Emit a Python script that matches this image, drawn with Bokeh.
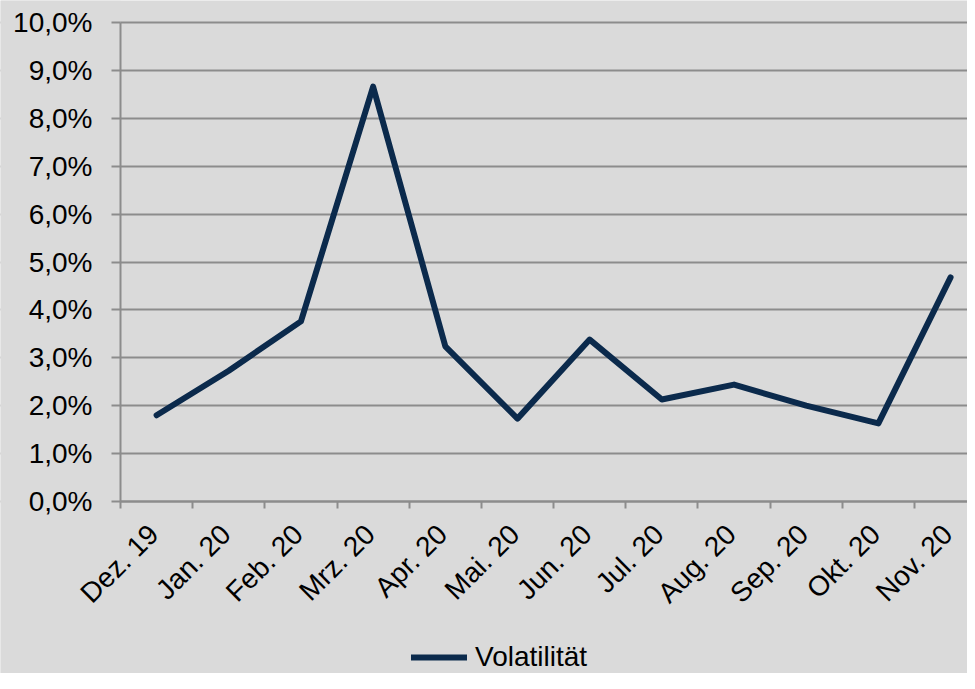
from math import pi
from bokeh.plotting import figure
from bokeh.models import (Range1d, FixedTicker, Legend, LegendItem,
                          ColumnDataSource, BoxAnnotation)
from bokeh.embed import file_html
from bokeh.resources import INLINE

months = ["Dez. 19", "Jan. 20", "Feb. 20", "Mrz. 20", "Apr. 20", "Mai. 20",
          "Jun. 20", "Jul. 20", "Aug. 20", "Sep. 20", "Okt. 20", "Nov. 20"]
volatility = [1.80, 2.73, 3.76, 8.66, 3.24, 1.73, 3.38, 2.13, 2.44, 2.00, 1.63, 4.68]
y_ticks = list(range(0, 11))
y_tick_labels = [f"{t},0%" for t in y_ticks]
series_name = "Volatilität"

FONT = "Liberation Sans"
BG = "#DADADA"
GRID = "#8C8C8C"
LINE = "#0B2A4C"

W, H = 967, 673
TOP, AXIS_X = 22, 120       # pixel position of the 10 % line and of the value axis
PX_PER_PCT = 47.9
PX_PER_MONTH = 72.18
y_max = 10 + TOP / PX_PER_PCT
y_min = 10 - (H - TOP) / PX_PER_PCT
x_start = -AXIS_X / PX_PER_MONTH
x_end = (W - AXIS_X) / PX_PER_MONTH

x_centers = [i + 0.5 for i in range(len(months))]
x_bounds = list(range(len(months) + 1))

p = figure(width=W, height=H, output_backend="svg", toolbar_location=None,
           x_range=Range1d(x_start, x_end), y_range=Range1d(y_min, y_max),
           min_border_left=0, min_border_right=0, min_border_top=0,
           min_border_bottom=0)
p.background_fill_color = BG
p.border_fill_color = BG
p.outline_line_color = None

# horizontal grid, hidden left of the value axis
p.xgrid.grid_line_color = None
p.ygrid.ticker = FixedTicker(ticks=y_ticks)
p.ygrid.grid_line_color = GRID
p.ygrid.grid_line_width = 2
p.add_layout(BoxAnnotation(right=0, fill_color=BG, fill_alpha=1,
                           line_color=None, level="underlay"))

r = p.line(x_centers, volatility, line_color=LINE, line_width=6,
           line_cap="round", line_join="round")

# value axis at x = 0, ticks only (labels are text below)
p.yaxis.fixed_location = 0
p.yaxis.bounds = (0, 10)
p.yaxis.ticker = FixedTicker(ticks=[], minor_ticks=y_ticks)
p.yaxis.axis_line_color = GRID
p.yaxis.axis_line_width = 2
p.yaxis.major_tick_line_color = None
p.yaxis.major_tick_in = 0
p.yaxis.major_tick_out = 0
p.yaxis.minor_tick_line_color = GRID
p.yaxis.minor_tick_line_width = 2
p.yaxis.minor_tick_in = 0
p.yaxis.minor_tick_out = 9
p.yaxis.major_label_standoff = 0
p.yaxis.major_label_text_font_size = "0px"

# category axis at 0 %, ticks between the months
p.xaxis.fixed_location = 0
p.xaxis.bounds = (0, x_end)
p.xaxis.ticker = FixedTicker(ticks=[], minor_ticks=x_bounds)
p.xaxis.axis_line_color = GRID
p.xaxis.axis_line_width = 2
p.xaxis.major_tick_line_color = None
p.xaxis.major_tick_in = 0
p.xaxis.major_tick_out = 0
p.xaxis.minor_tick_line_color = GRID
p.xaxis.minor_tick_line_width = 2
p.xaxis.minor_tick_in = 0
p.xaxis.minor_tick_out = 7
p.xaxis.major_label_standoff = 0
p.xaxis.major_label_text_font_size = "0px"

# value labels
ylab_src = ColumnDataSource(dict(x=[0] * len(y_ticks), y=y_ticks, text=y_tick_labels))
p.text(x="x", y="y", text="text", source=ylab_src, x_offset=-28,
       text_align="right", text_baseline="middle",
       text_font={"value": FONT}, text_font_size={"value": "28px"},
       text_color="black")

# month labels, rotated 45 degrees, hanging from each month's centre
xlab_src = ColumnDataSource(dict(x=x_centers, y=[0] * len(months), text=months))
p.text(x="x", y="y", text="text", source=xlab_src, angle=pi / 4,
       x_offset=-3, y_offset=28, text_align="right", text_baseline="middle",
       text_font={"value": FONT}, text_font_size={"value": "28px"},
       text_color="black")

legend = Legend(items=[LegendItem(label=series_name, renderers=[r])],
                location=(411, 0), orientation="horizontal",
                padding=0, margin=0, spacing=0,
                glyph_width=56, glyph_height=32, label_height=32,
                label_standoff=8,
                background_fill_alpha=0, border_line_alpha=0,
                label_text_font=FONT, label_text_font_size="28px",
                label_text_color="black")
p.add_layout(legend)

open("out.html", "w").write(file_html(p, INLINE))
